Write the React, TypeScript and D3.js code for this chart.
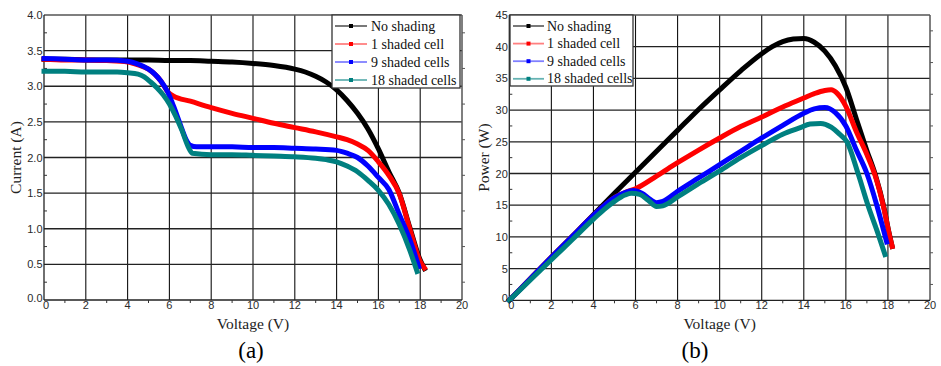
import React from 'react';
import * as d3 from 'd3';

// Series labels and colours
const seriesNames = ['No shading', '1 shaded cell', '9 shaded cells', '18 shaded cells'];
const seriesColors = ['#000000', '#ff0000', '#0000ff', '#008080'];
const legendLineColors = ['#6a6a6a', '#ff8080', '#8080ff', '#66b3b3'];

// Current–voltage curves (V, A)
const ivNoShadeV = [0, 1, 2, 3, 4, 5, 6, 7, 8, 9, 10, 11, 12, 12.5, 13, 13.5, 14, 14.5, 15, 15.5, 16, 16.5, 17, 17.5, 18, 18.2];
const ivNoShadeI = [3.38, 3.38, 3.37, 3.37, 3.37, 3.37, 3.36, 3.36, 3.35, 3.34, 3.32, 3.29, 3.24, 3.2, 3.14, 3.06, 2.95, 2.8, 2.62, 2.4, 2.12, 1.8, 1.5, 1.02, 0.56, 0.44];

const ivOneCellV = [0, 1, 2, 3, 4, 4.5, 5, 5.3, 5.6, 5.9, 6.2, 7, 8, 9, 10, 11, 12, 13, 14, 14.5, 15, 15.5, 16, 16.5, 17, 17.5, 18, 18.2];
const ivOneCellI = [3.38, 3.37, 3.37, 3.36, 3.34, 3.3, 3.24, 3.17, 3.07, 2.93, 2.86, 2.79, 2.7, 2.62, 2.55, 2.48, 2.42, 2.36, 2.29, 2.25, 2.19, 2.1, 1.94, 1.75, 1.49, 1.0, 0.54, 0.45];

const ivNineCellsV = [0, 1, 2, 3, 4, 4.5, 5, 5.3, 5.6, 5.9, 6.2, 6.5, 6.8, 7.0, 7.3, 8, 9, 10, 11, 12, 13, 14, 14.5, 15, 15.5, 16, 16.5, 17, 17.5, 17.93];
const ivNineCellsI = [3.39, 3.38, 3.37, 3.37, 3.35, 3.31, 3.24, 3.17, 3.07, 2.93, 2.72, 2.48, 2.25, 2.17, 2.15, 2.15, 2.15, 2.14, 2.14, 2.13, 2.12, 2.1, 2.06, 2.0, 1.88, 1.72, 1.55, 1.2, 0.85, 0.47];

const ivEighteenCellsV = [0, 1, 2, 3, 3.5, 4, 4.5, 4.8, 5.1, 5.4, 5.7, 6.0, 6.3, 6.6, 6.9, 7.1, 8, 9, 10, 11, 12, 13, 13.5, 14, 14.5, 15, 15.5, 16, 16.5, 17, 17.5, 17.85];
const ivEighteenCellsI = [3.21, 3.21, 3.2, 3.2, 3.2, 3.19, 3.17, 3.13, 3.06, 2.98, 2.88, 2.75, 2.58, 2.38, 2.15, 2.06, 2.04, 2.04, 2.03, 2.02, 2.01, 1.99, 1.97, 1.94, 1.88, 1.8, 1.68, 1.54, 1.34, 1.06, 0.7, 0.4];

// Power–voltage curves (V, W)
const pvNoShadeV = [0, 1, 2, 3, 4, 5, 6, 7, 8, 9, 10, 11, 12, 12.5, 13, 13.5, 14, 14.5, 15, 15.5, 16, 16.5, 17, 17.4, 17.8, 18.05, 18.2];
const pvNoShadeP = [0, 3.4, 6.8, 10.1, 13.5, 16.9, 20.2, 23.5, 26.8, 30.1, 33.2, 36.2, 38.9, 40.0, 40.8, 41.2, 41.3, 40.7, 39.3, 37.0, 33.6, 28.6, 23.6, 19.8, 14.8, 10.7, 8.5];

const pvOneCellV = [0, 1, 2, 3, 4, 5, 5.5, 6, 7, 8, 9, 10, 11, 12, 13, 14, 14.5, 15, 15.3, 15.6, 16, 16.5, 17, 17.4, 17.8, 18.05, 18.2];
const pvOneCellP = [0, 3.4, 6.8, 10.1, 13.4, 16.2, 17.0, 17.6, 19.6, 21.7, 23.7, 25.6, 27.4, 28.9, 30.5, 31.9, 32.6, 33.1, 33.2, 32.6, 30.6, 26.6, 23.0, 19.6, 14.6, 10.6, 8.5];

const pvNineCellsV = [0, 1, 2, 3, 4, 5, 5.5, 5.9, 6.3, 6.7, 7.0, 7.3, 8, 9, 10, 11, 12, 13, 14, 14.5, 15, 15.5, 16, 16.5, 17, 17.47, 17.94];
const pvNineCellsP = [0, 3.4, 6.8, 10.1, 13.4, 16.2, 17.0, 17.3, 16.9, 15.9, 15.4, 15.6, 17.2, 19.3, 21.4, 23.5, 25.6, 27.6, 29.5, 30.2, 30.4, 29.6, 27.5, 23.7, 20.0, 15.0, 9.2];

const pvEighteenCellsV = [0, 1, 2, 3, 4, 4.5, 5, 5.5, 5.8, 6.2, 6.6, 7.0, 7.3, 8, 9, 10, 11, 12, 13, 13.8, 14.3, 14.8, 15.3, 15.7, 16.05, 16.58, 17.05, 17.5, 17.86];
const pvEighteenCellsP = [0, 3.2, 6.4, 9.6, 12.8, 14.3, 15.6, 16.6, 16.9, 16.7, 15.8, 14.8, 14.9, 16.3, 18.4, 20.4, 22.5, 24.4, 26.2, 27.2, 27.8, 27.9, 27.3, 26.2, 25.0, 20.0, 15.0, 10.8, 7.2];

// Axis ticks
const voltageTicks = [0, 2, 4, 6, 8, 10, 12, 14, 16, 18, 20];
const currentTicks = [0, 0.5, 1, 1.5, 2, 2.5, 3, 3.5, 4];
const powerTicks = [0, 5, 10, 15, 20, 25, 30, 35, 40, 45];

const SERIF = '"Liberation Serif", "Times New Roman", serif';
const SANS = '"Liberation Sans", Arial, sans-serif';

type Curve = { v: number[]; y: number[] };

type PanelProps = {
  left: number;
  right: number;
  top: number;
  bottom: number;
  yTicks: number[];
  yFmt: (n: number) => string;
  yTitle: string;
  titleX: number;
  caption: string;
  captionX: number;
  curves: Curve[];
  legend: { x: number; y: number; w: number; h: number; lx1: number; lx2: number; tx: number; row0: number; rowStep: number };
};

function Panel(p: PanelProps) {
  const x = d3.scaleLinear().domain([0, 20]).range([p.left, p.right]);
  const yMax = p.yTicks[p.yTicks.length - 1];
  const y = d3.scaleLinear().domain([0, yMax]).range([p.bottom, p.top]);
  const yStep = p.yTicks[1] - p.yTicks[0];
  const line = d3
    .line<[number, number]>()
    .x((d) => x(d[0]))
    .y((d) => y(d[1]))
    .curve(d3.curveMonotoneX);

  const minorY = p.yTicks.slice(0, -1).map((t) => t + yStep / 2);
  const minorX = voltageTicks.slice(0, -1).map((t) => t + 1);
  const lg = p.legend;

  return (
    <g>
      {/* grid */}
      {voltageTicks.slice(1, -1).map((t) => (
        <line key={'gx' + t} x1={x(t)} x2={x(t)} y1={p.top} y2={p.bottom} stroke="#111" strokeWidth={1.1} />
      ))}
      {p.yTicks.slice(1, -1).map((t) => (
        <line key={'gy' + t} x1={p.left} x2={p.right} y1={y(t)} y2={y(t)} stroke="#222" strokeWidth={1.3} />
      ))}
      {/* frame */}
      <line x1={p.left} x2={p.right} y1={p.top} y2={p.top} stroke="#555" strokeWidth={1.5} />
      <line x1={p.right} x2={p.right} y1={p.top} y2={p.bottom} stroke="#555" strokeWidth={1.5} />
      <line x1={p.left} x2={p.left} y1={p.top} y2={p.bottom} stroke="#222" strokeWidth={1.3} />
      <line x1={p.left} x2={p.right} y1={p.bottom} y2={p.bottom} stroke="#222" strokeWidth={1.3} />
      {/* minor ticks */}
      {minorY.map((t) => (
        <g key={'my' + t}>
          <line x1={p.left} x2={p.left + 3} y1={y(t)} y2={y(t)} stroke="#333" />
          <line x1={p.right} x2={p.right + 3} y1={y(t)} y2={y(t)} stroke="#555" />
        </g>
      ))}
      {minorX.map((t) => (
        <line key={'mx' + t} x1={x(t)} x2={x(t)} y1={p.bottom} y2={p.bottom + 3} stroke="#333" />
      ))}
      {/* curves */}
      {p.curves.map((c, i) => (
        <path
          key={'c' + i}
          d={line(c.v.map((v, k) => [v, c.y[k]] as [number, number])) || ''}
          fill="none"
          stroke={seriesColors[i]}
          strokeWidth={5}
          strokeLinejoin="round"
          strokeLinecap="square"
        />
      ))}
      {/* tick labels */}
      {p.yTicks.map((t) => (
        <text key={'ly' + t} x={p.left - 1.5} y={y(t) - (t === 0 ? 2 : 0)} textAnchor="end" dominantBaseline="central" fontFamily={SANS} fontSize={11} fill="#2a2a2a">
          {p.yFmt(t)}
        </text>
      ))}
      {voltageTicks.map((t) => (
        <text key={'lx' + t} x={x(t) + (t === 0 ? 2 : 0)} y={p.bottom + 9} textAnchor="middle" fontFamily={SANS} fontSize={11} fill="#2a2a2a">
          {t}
        </text>
      ))}
      {/* axis titles */}
      <text x={(p.left + p.right) / 2} y={329} textAnchor="middle" fontFamily={SERIF} fontSize={15.5} fill="#222">
        Voltage (V)
      </text>
      <text
        transform={`translate(${p.titleX},${(p.top + p.bottom) / 2}) rotate(-90)`}
        textAnchor="middle"
        dominantBaseline="central"
        fontFamily={SERIF}
        fontSize={15.5}
        fill="#222"
      >
        {p.yTitle}
      </text>
      <text x={p.captionX} y={358} textAnchor="middle" fontFamily={SERIF} fontSize={23} fill="#000">
        {p.caption}
      </text>
      {/* legend */}
      <rect x={lg.x} y={lg.y} width={lg.w} height={lg.h} fill="#fff" stroke="#333" strokeWidth={1.3} />
      {seriesNames.map((name, i) => {
        const ry = lg.row0 + i * lg.rowStep;
        const mid = (lg.lx1 + lg.lx2) / 2;
        return (
          <g key={'lg' + i}>
            <line x1={lg.lx1} x2={lg.lx2} y1={ry} y2={ry} stroke={legendLineColors[i]} strokeWidth={1.8} />
            <rect x={mid - 2} y={ry - 2} width={4} height={4} fill={seriesColors[i]} />
            <text x={lg.tx} y={ry} dominantBaseline="central" fontFamily={SERIF} fontSize={14} fill="#111">
              {name}
            </text>
          </g>
        );
      })}
    </g>
  );
}

export default function App() {
  const ivCurves: Curve[] = [
    { v: ivNoShadeV, y: ivNoShadeI },
    { v: ivOneCellV, y: ivOneCellI },
    { v: ivNineCellsV, y: ivNineCellsI },
    { v: ivEighteenCellsV, y: ivEighteenCellsI },
  ];
  const pvCurves: Curve[] = [
    { v: pvNoShadeV, y: pvNoShadeP },
    { v: pvOneCellV, y: pvOneCellP },
    { v: pvNineCellsV, y: pvNineCellsP },
    { v: pvEighteenCellsV, y: pvEighteenCellsP },
  ];
  const fmt1 = d3.format('.1f');
  const fmt0 = d3.format('d');

  return (
    <svg width={941} height={366} style={{ position: 'absolute', left: 0, top: 0, background: '#fff' }}>
      <rect x={0} y={0} width={941} height={366} fill="#fff" />
      <Panel
        left={44}
        right={462}
        top={15}
        bottom={300}
        yTicks={currentTicks}
        yFmt={fmt1}
        yTitle="Current (A)"
        titleX={15}
        caption="(a)"
        captionX={251}
        curves={ivCurves}
        legend={{ x: 332, y: 15, w: 128, h: 73, lx1: 335, lx2: 367, tx: 371, row0: 26, rowStep: 18 }}
      />
      <Panel
        left={509.3}
        right={930}
        top={15}
        bottom={300.3}
        yTicks={powerTicks}
        yFmt={fmt0}
        yTitle="Power (W)"
        titleX={483}
        caption="(b)"
        captionX={695}
        curves={pvCurves}
        legend={{ x: 510, y: 15, w: 123, h: 71, lx1: 513, lx2: 544, tx: 547, row0: 26, rowStep: 17.6 }}
      />
    </svg>
  );
}
